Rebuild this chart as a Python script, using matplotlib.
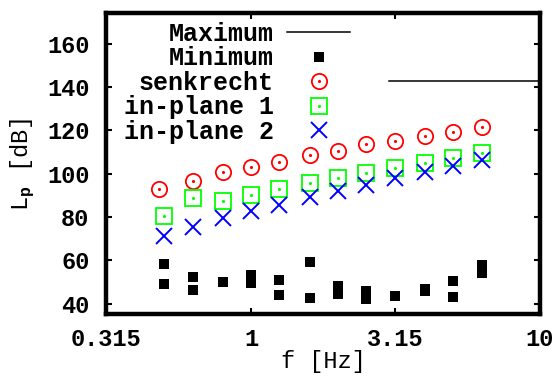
import matplotlib
matplotlib.use('Agg')
import matplotlib.pyplot as plt

plt.rcParams['font.family'] = ['Liberation Mono', 'DejaVu Sans Mono']
plt.rcParams['font.weight'] = 'bold'
plt.rcParams['mathtext.fontset'] = 'custom'
plt.rcParams['mathtext.rm'] = 'Liberation Mono:bold'
plt.rcParams['mathtext.it'] = 'Liberation Mono:bold'
plt.rcParams['mathtext.bf'] = 'Liberation Mono:bold'

#%% Daten (Terzbaender)
f_senk = [0.48, 0.63, 0.8, 1, 1.25, 1.6, 2, 2.5, 3.15, 4, 5, 6.3]
f_ip = [0.5, 0.63, 0.8, 1, 1.25, 1.6, 2, 2.5, 3.15, 4, 5, 6.3]
senkrecht = [92.8, 96.7, 100.7, 103.0, 105.5, 108.6, 110.6, 113.6, 115.1, 117.4, 119.4, 121.4]
inplane1 = [80.5, 88.7, 87.4, 90.2, 93.0, 95.6, 97.9, 100.2, 102.5, 104.8, 107.4, 109.7]
inplane2 = [71.3, 75.3, 79.5, 82.8, 85.6, 89.1, 92.2, 94.8, 98.2, 100.9, 103.7, 106.3]

f_min = [0.5, 0.5, 0.63, 0.63, 0.8, 1, 1, 1.25, 1.25, 1.6, 1.6, 2, 2, 2.5, 2.5,
         3.15, 4, 4, 5, 5, 6.3, 6.3]
minimum = [58.3, 49.1, 52.3, 46.3, 50.0, 53.2, 49.5, 50.9, 44.0, 59.2, 42.6, 48.2,
           44.3, 45.8, 42.0, 43.7, 46.9, 46.0, 50.5, 43.1, 57.8, 54.1]

f_max = [3.0, 10]
maximum = [142.7, 142.7]

xticks = [0.315, 1, 3.15, 10]
xticklabels = ['0.315', '1', '3.15', '10']
yticks = [40, 60, 80, 100, 120, 140, 160]

fs = 17

fig = plt.figure(figsize=(5.56, 3.77), dpi=100)
ax = fig.add_axes([0.1906, 0.1658, 0.7806, 0.7984])

h_max, = ax.plot(f_max, maximum, '-', color='black', lw=1.1)
h_min, = ax.plot(f_min, minimum, 's', color='black', ms=7.7, mew=0, ls='none')
h_s, = ax.plot(f_senk, senkrecht, 'o', mfc='none', mec='red', ms=11, mew=1.3, ls='none')
d_s, = ax.plot(f_senk, senkrecht, '.', color='red', ms=2.5, ls='none')
h_1, = ax.plot(f_ip, inplane1, 's', mfc='none', mec='#00ff00', ms=11, mew=1.3, ls='none')
d_1, = ax.plot(f_ip, inplane1, '.', color='#00ff00', ms=2.5, ls='none')
h_2, = ax.plot(f_ip, inplane2, 'x', color='blue', ms=11, mew=1.4, ls='none')

ax.set_xscale('log')
ax.set_xlim(0.315, 10)
ax.set_ylim(35, 174)
ax.set_xticks(xticks)
ax.set_xticklabels(xticklabels)
ax.minorticks_off()
ax.set_yticks(yticks)
ax.tick_params(direction='in', length=4, width=1.5, labelsize=fs, top=True, right=True)
ax.tick_params(axis='x', pad=10)
ax.tick_params(axis='y', pad=12)
for sp in ax.spines.values():
    sp.set_linewidth(3.2)

ax.set_xlabel('f [Hz]', fontsize=fs, labelpad=-1)
ax.set_ylabel(r'L$_\mathrm{p}$ [dB]', fontsize=fs, labelpad=7)

ax.legend([h_max, h_min, (h_s, d_s), (h_1, d_1), h_2],
          ['Maximum', 'Minimum', 'senkrecht', 'in-plane 1', 'in-plane 2'],
          loc='upper right', bbox_to_anchor=(0.562, 0.972), markerfirst=False,
          frameon=False, fontsize=18, handlelength=2.5, handletextpad=0.55,
          labelspacing=0.02, borderpad=0, borderaxespad=0)

fig.savefig('out.png', dpi=100)
